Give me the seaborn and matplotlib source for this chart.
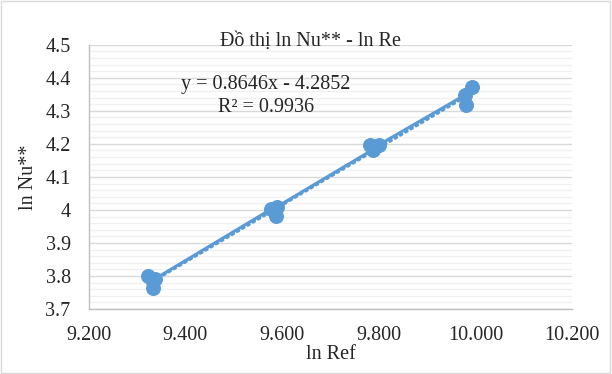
import numpy as np
import pandas as pd
import matplotlib
matplotlib.use("Agg")
import matplotlib.pyplot as plt
import seaborn as sns
from matplotlib.ticker import MultipleLocator, FormatStrFormatter, FuncFormatter
from matplotlib.patches import Rectangle

# data (in series order)
ln_re = [9.333, 9.322, 9.338, 9.578, 9.588, 9.590, 9.788, 9.782, 9.800, 9.978, 9.980, 9.992]
ln_nu = [3.763, 3.800, 3.792, 4.003, 3.983, 4.010, 4.183, 4.198, 4.197, 4.348, 4.318, 4.373]
slope = 0.8646
intercept = -4.2852
r_squared = 0.9936
title = "Đồ thị ln Nu** - ln Re"
x_label = "ln Ref"
y_label = "ln Nu**"

blue = "#5B9BD5"

sns.set_style("white")
plt.rcParams['font.family'] = ['Liberation Serif', 'DejaVu Serif']

df = pd.DataFrame({'x': ln_re, 'y': ln_nu})
x_fit = np.array([min(ln_re), max(ln_re)])
fit_df = pd.DataFrame({'x': x_fit, 'y': slope * x_fit + intercept})

fig = plt.figure(figsize=(6.12, 3.74), dpi=100)
ax = fig.add_axes([0.145, 0.174, 0.79, 0.706])

# series drawn as straight lines with markers
sns.lineplot(data=df, x='x', y='y', ax=ax, sort=False, estimator=None,
             color=blue, linewidth=2.2, marker='o', markersize=10,
             markeredgecolor=blue, zorder=3)
# linear trendline
sns.lineplot(data=fit_df, x='x', y='y', ax=ax, color=blue, linewidth=2.2,
             linestyle=(0, (0.6, 1.4)), dash_capstyle='round', zorder=2)

ax.set_xlim(9.2, 10.2)
ax.set_ylim(3.7, 4.5)
ax.xaxis.set_major_locator(MultipleLocator(0.2))
ax.yaxis.set_major_locator(MultipleLocator(0.1))
ax.yaxis.set_minor_locator(MultipleLocator(0.02))
ax.xaxis.set_major_formatter(FormatStrFormatter('%.3f'))
ax.yaxis.set_major_formatter(FuncFormatter(lambda v, p: f"{v:.1f}".rstrip('0').rstrip('.')))

ax.grid(False)
ax.grid(axis='y', which='major', color='#D9D9D9', linewidth=1.0, zorder=0)
ax.grid(axis='y', which='minor', color='#F0F0F0', linewidth=1.0, zorder=0)
ax.set_axisbelow(True)

for s in ['top', 'right']:
    ax.spines[s].set_visible(False)
for s in ['left', 'bottom']:
    ax.spines[s].set_color('#BFBFBF')
    ax.spines[s].set_linewidth(1.0)

ax.tick_params(axis='both', which='major', direction='out', length=4, width=1,
               color='#BFBFBF', labelsize=14.5, labelcolor='#262626')
ax.tick_params(axis='x', which='major', pad=8)
ax.tick_params(axis='y', which='major', pad=9)
ax.tick_params(axis='y', which='minor', length=0)

ax.set_xlabel(x_label, fontsize=14.5, color='#262626', labelpad=0)
ax.set_ylabel(y_label, fontsize=14.5, color='#262626', labelpad=5)

fig.text(310 / 612, 1 - 41 / 374, title, ha='center', va='center', fontsize=14.5, color='#262626')
fig.text(266 / 612, 1 - 85 / 374, f"y = {slope}x - {abs(intercept)}", ha='center', va='center',
         fontsize=14.5, color='#262626')
fig.text(266 / 612, 1 - 108 / 374, f"R² = {r_squared}", ha='center', va='center',
         fontsize=14.5, color='#262626')

fig.patches.append(Rectangle((0.002, 0.003), 0.995, 0.993, transform=fig.transFigure,
                             fill=False, edgecolor='#D9D9D9', linewidth=1.0))

fig.savefig('out.png', dpi=100)
